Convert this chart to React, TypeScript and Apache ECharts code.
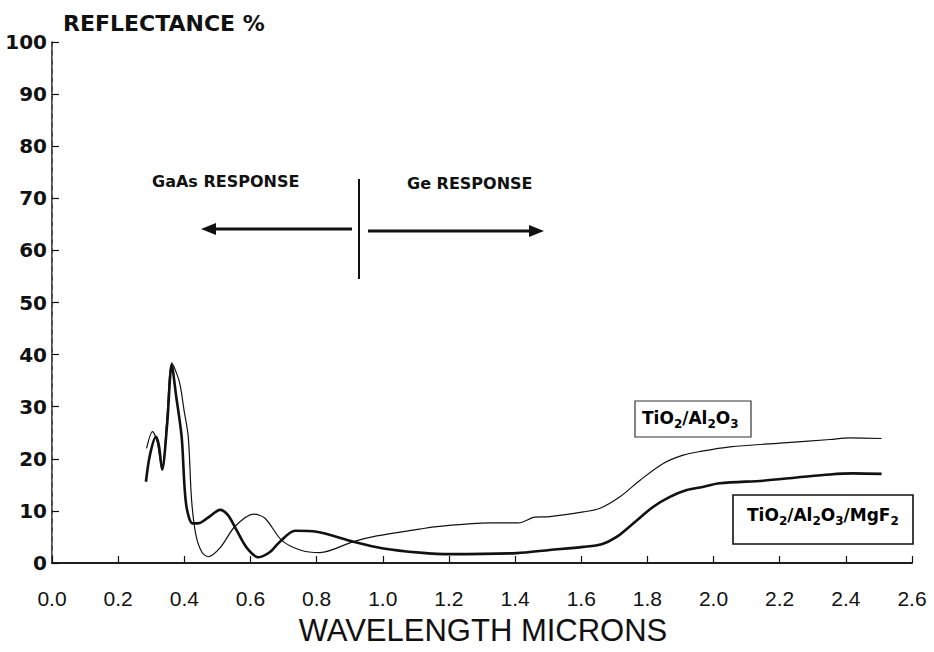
import React, { useEffect, useRef } from "react";
import * as echarts from "echarts";

// TiO2/Al2O3 (thin line)
const thinWavelength = [0.286,0.304,0.317,0.333,0.348,0.362,0.385,0.399,0.412,0.422,0.435,0.453,0.472,0.508,0.553,0.609,0.644,0.694,0.750,0.810,0.911,0.982,1.112,1.163,1.324,1.410,1.460,1.505,1.606,1.657,1.717,1.778,1.848,1.908,1.959,2.050,2.201,2.352,2.412,2.508];
const thinReflectance = [22.0,25.2,23.6,17.9,28.4,38.4,34.8,29.4,24.2,12.1,5.4,2.1,1.2,2.9,7.0,9.4,8.6,4.4,2.5,2.0,4.1,5.2,6.5,7.0,7.7,7.7,8.8,8.9,9.8,10.5,12.7,15.9,19.1,20.7,21.4,22.3,23.0,23.7,24.0,23.9];

// TiO2/Al2O3/MgF2 (thick line)
const thickWavelength = [0.284,0.296,0.314,0.323,0.333,0.348,0.362,0.375,0.392,0.405,0.425,0.447,0.478,0.508,0.532,0.558,0.589,0.624,0.659,0.689,0.735,0.800,0.911,1.002,1.112,1.203,1.405,1.505,1.606,1.662,1.707,1.757,1.818,1.868,1.919,1.959,2.019,2.150,2.251,2.352,2.422,2.508];
const thickReflectance = [15.6,20.7,24.2,22.6,17.9,26.5,38.0,32.2,24.2,11.5,7.6,7.7,9.0,10.2,9.2,6.3,2.9,1.1,2.1,4.1,6.2,6.0,4.1,2.8,2.0,1.7,1.9,2.5,3.1,3.6,5.0,7.6,10.8,12.7,14.0,14.5,15.3,15.8,16.4,17.0,17.2,17.1];

const yTitle = "REFLECTANCE %";
const xTitle = "WAVELENGTH MICRONS";
const leftNote = "GaAs RESPONSE";
const rightNote = "Ge RESPONSE";

const INK = "#111";

const subRich = (size: number) => ({
  n: { fontSize: size, fontWeight: "bold", fontFamily: "DejaVu Sans", lineHeight: 24, verticalAlign: "middle", color: INK },
  s: { fontSize: 12, fontWeight: "bold", fontFamily: "DejaVu Sans", lineHeight: 12, verticalAlign: "bottom", color: INK },
});

export default function App() {
  const ref = useRef<HTMLDivElement>(null);
  useEffect(() => {
    if (!ref.current) return;
    const chart = echarts.init(ref.current, undefined, { renderer: "svg" });
    const zip = (xs: number[], ys: number[]) => xs.map((x, i) => [x, ys[i]]);
    chart.setOption({
      animation: false,
      backgroundColor: "#fff",
      grid: { left: 52, right: 22, top: 42, bottom: 89, containLabel: false },
      xAxis: [
        {
          type: "value",
          min: 0,
          max: 2.6,
          interval: 0.2,
          axisLine: { show: true, lineStyle: { color: INK, width: 1.5 } },
          axisTick: { show: true, inside: true, length: 7, lineStyle: { color: INK, width: 1.2 } },
          splitLine: { show: false },
          axisLabel: {
            formatter: (v: number) => v.toFixed(1),
            fontFamily: "Liberation Sans",
            fontSize: 21,
            color: INK,
            margin: 25,
          },
        },
        {
          type: "value",
          position: "top",
          min: 0,
          max: 2.6,
          axisLine: { show: true, lineStyle: { color: INK, width: 1.5 } },
          axisTick: { show: false },
          axisLabel: { show: false },
          splitLine: { show: false },
        },
      ],
      yAxis: [
        {
          type: "value",
          min: 0,
          max: 100,
          interval: 10,
          axisLine: { show: true, lineStyle: { color: INK, width: 1.5 } },
          axisTick: { show: true, inside: true, length: 7, lineStyle: { color: INK, width: 1.2 } },
          splitLine: { show: false },
          axisLabel: {
            fontFamily: "DejaVu Sans",
            fontWeight: "bold",
            fontSize: 20,
            color: INK,
            margin: 5,
          },
        },
        {
          type: "value",
          position: "right",
          offset: 8,
          min: 0,
          max: 100,
          axisLine: { show: true, lineStyle: { color: "#888", width: 1, type: [3, 6] } },
          axisTick: { show: false },
          axisLabel: { show: false },
          splitLine: { show: false },
        },
      ],
      series: [
        {
          name: "TiO2/Al2O3",
          type: "line",
          data: zip(thinWavelength, thinReflectance),
          showSymbol: false,
          symbol: "none",
          smooth: 0.3,
          lineStyle: { color: INK, width: 1.2 },
        },
        {
          name: "TiO2/Al2O3/MgF2",
          type: "line",
          data: zip(thickWavelength, thickReflectance),
          showSymbol: false,
          symbol: "none",
          smooth: 0.3,
          lineStyle: { color: INK, width: 2.6 },
        },
      ],
      graphic: [
        {
          type: "text",
          x: 63,
          y: 23,
          style: { text: yTitle, font: 'bold 22px "DejaVu Sans"', fill: INK, verticalAlign: "middle", textVerticalAlign: "middle" },
        },
        {
          type: "text",
          x: 483,
          y: 630,
          style: { text: xTitle, font: '31px "Liberation Sans"', fill: INK, align: "center", textAlign: "center", verticalAlign: "middle", textVerticalAlign: "middle" },
        },
        {
          type: "text",
          x: 152,
          y: 181,
          style: { text: leftNote, font: 'bold 16px "DejaVu Sans"', fill: INK, verticalAlign: "middle", textVerticalAlign: "middle" },
        },
        {
          type: "text",
          x: 407,
          y: 183,
          style: { text: rightNote, font: 'bold 16px "DejaVu Sans"', fill: INK, verticalAlign: "middle", textVerticalAlign: "middle" },
        },
        // divider
        { type: "line", shape: { x1: 359, y1: 179, x2: 359, y2: 279 }, style: { stroke: INK, lineWidth: 2 } },
        // left arrow
        { type: "line", shape: { x1: 352, y1: 229, x2: 212, y2: 229 }, style: { stroke: INK, lineWidth: 3.2 } },
        { type: "polygon", shape: { points: [[201, 229], [216, 223], [216, 235]] }, style: { fill: INK } },
        // right arrow
        { type: "line", shape: { x1: 368, y1: 231, x2: 532, y2: 231 }, style: { stroke: INK, lineWidth: 3.2 } },
        { type: "polygon", shape: { points: [[544, 231], [529, 225], [529, 237]] }, style: { fill: INK } },
        // label boxes
        { type: "rect", shape: { x: 635, y: 401, width: 116, height: 36 }, style: { fill: "none", stroke: "#333", lineWidth: 1.2 } },
        {
          type: "text",
          x: 642,
          y: 418,
          style: {
            text: "{n|TiO}{s|2}{n|/Al}{s|2}{n|O}{s|3}",
            rich: subRich(17),
            verticalAlign: "middle",
            textVerticalAlign: "middle",
          },
        },
        { type: "rect", shape: { x: 733, y: 495, width: 180, height: 49 }, style: { fill: "none", stroke: INK, lineWidth: 1.6 } },
        {
          type: "text",
          x: 747,
          y: 515,
          style: {
            text: "{n|TiO}{s|2}{n|/Al}{s|2}{n|O}{s|3}{n|/MgF}{s|2}",
            rich: subRich(17),
            verticalAlign: "middle",
            textVerticalAlign: "middle",
          },
        },
      ],
    });
    return () => chart.dispose();
  }, []);
  return (
    <div
      ref={ref}
      style={{ position: "fixed", left: 0, top: 0, width: 934, height: 652, background: "#fff" }}
    />
  );
}
